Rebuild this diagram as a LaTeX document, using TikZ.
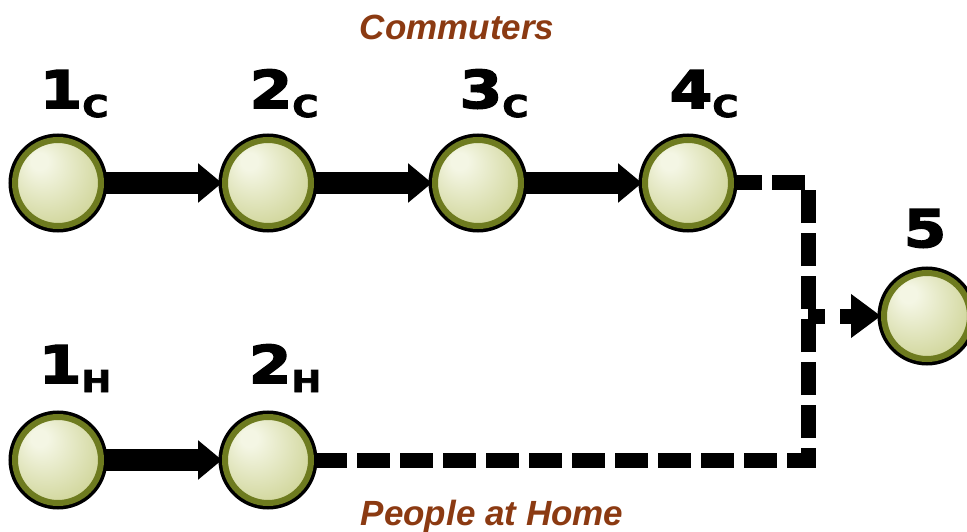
\documentclass[tikz,border=0pt]{standalone}
\usepackage{fontspec}
\usetikzlibrary{arrows.meta}
\setmainfont{Liberation Sans}
\newfontfamily\heavyfont{DejaVu Sans}[BoldFeatures={FakeBold=3, FakeStretch=1.18}]

\definecolor{ballhi}{HTML}{F4F6E4}
\definecolor{ballmid}{HTML}{D3D8A0}
\definecolor{balledge}{HTML}{B0B75F}
\definecolor{ringolive}{HTML}{6E7B1F}
\definecolor{groupbrown}{HTML}{8B3A12}

\pgfdeclareradialshading{stationball}{\pgfpoint{-12bp}{14bp}}{%
  color(0bp)=(ballhi); color(5bp)=(ballhi); color(30bp)=(ballmid); color(52bp)=(balledge)}

\tikzset{
  station/.style={circle, minimum size=86pt, inner sep=0pt,
    preaction={draw=black, line width=13pt},
    shading=stationball, draw=ringolive, line width=6pt},
  steplabel/.style={anchor=base, inner sep=0pt, font=\heavyfont\bfseries\fontsize{52}{52}\selectfont},
  grouplabel/.style={anchor=base, inner sep=0pt, text=groupbrown,
    font=\bfseries\itshape\fontsize{35}{35}\selectfont},
  flow/.style={line width=22pt, -{Triangle[length=24pt, width=38pt]}},
  link/.style={line width=15pt, dash pattern=on 33pt off 10pt},
  linkarrow/.style={line width=15pt, dash pattern=on 17pt off 15pt,
    -{Triangle[length=30pt, width=42pt]}},
}
\newcommand{\subtag}[1]{\raisebox{-9pt}{\fontsize{30}{30}\selectfont #1}}

\begin{document}
\begin{tikzpicture}[x=1pt, y=-1pt]
  \useasboundingbox (0,0) rectangle (967,532);

  % stations
  \node[station] (c1) at (58,183) {};
  \node[station] (c2) at (268,183) {};
  \node[station] (c3) at (478,183) {};
  \node[station] (c4) at (688,183) {};
  \node[station] (h1) at (58,460) {};
  \node[station] (h2) at (268,460) {};
  \node[station] (p5) at (927,316) {};

  % step numbers
  \node[steplabel] (lc1) at (74,108) {1\subtag{C}};
  \node[steplabel] (lc2) at (284,108) {2\subtag{C}};
  \node[steplabel] (lc3) at (494,108) {3\subtag{C}};
  \node[steplabel] (lc4) at (704,108) {4\subtag{C}};
  \node[steplabel] (lh1) at (75,383) {1\subtag{H}};
  \node[steplabel] (lh2) at (285,383) {2\subtag{H}};
  \node[steplabel] (l5) at (925,247) {5};

  % group names
  \node[grouplabel] (gc) at (457,40) {Commuters};
  \node[grouplabel] (gh) at (492,525) {People at Home};

  % solid steps
  \draw[flow] (c1) -- (c2);
  \draw[flow] (c2) -- (c3);
  \draw[flow] (c3) -- (c4);
  \draw[flow] (h1) -- (h2);

  % merging dashed route
  \coordinate (topbend) at (808,183);
  \coordinate (botbend) at (808,460);
  \coordinate (junction) at (808,316);
  \draw[link] (h2) -- (botbend) -- (topbend) -- (c4);
  \draw[linkarrow] (junction) -- (p5);
\end{tikzpicture}
\end{document}
